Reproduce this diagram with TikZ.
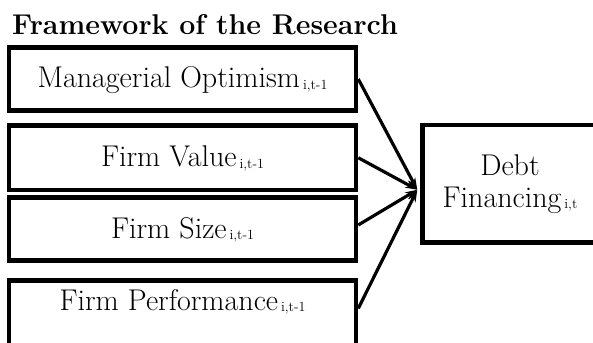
\documentclass[tikz,border=0pt]{standalone}
\usepackage{tikz}
\usetikzlibrary{positioning, arrows.meta}
\newcommand{\idx}[1]{\hspace{3pt}{\fontsize{14}{16}\selectfont\raisebox{-1.5pt}{#1}}}

\begin{document}
\begin{tikzpicture}[x=1pt, y=-1pt,
		varbox/.style={draw, line width=4.5pt, minimum width=347pt, minimum height=63pt,
			text height=20pt, text depth=2pt, font=\fontsize{30}{32}\selectfont},
		link/.style={line width=3.2pt, -{Stealth[length=12pt, width=8pt]}}]
		\clip (0,0) rectangle (593,342);
		\node[anchor=base west, inner sep=0pt, font=\fontsize{28.6}{33}\selectfont\bfseries] (title) at (12,35) {Framework of the Research};
		
		\node[varbox] (mo) at (182.5,79) {Managerial Optimism\idx{i,t-1}};
		\node[varbox, minimum height=64.5pt, below=10.5pt of mo] (fv) {Firm Value\idx{i,t-1}};
		\node[varbox, below=3pt of fv] (fs) {Firm Size\idx{i,t-1}};
		\node[varbox, minimum height=70pt, text depth=31pt, below=15.5pt of fs] (fp) {Firm Performance\idx{i,t-1}};
		
		\node[draw, line width=4.5pt, minimum width=175pt, minimum height=117.5pt, align=center,
			font=\fontsize{30}{32}\selectfont] (debt) at (510,183.75) {Debt\\Financing\idx{i,t}};
		\coordinate (hub) at ([xshift=-3pt, yshift=-6pt]debt.west);
		
		\draw[link] (mo.east) -- (hub);
		\draw[link] (fv.east) -- (hub);
		\draw[link] ([yshift=4pt]fs.east) -- (hub);
		\draw[link] ([yshift=7pt]fp.east) -- (hub);
	\end{tikzpicture}
\end{document}
